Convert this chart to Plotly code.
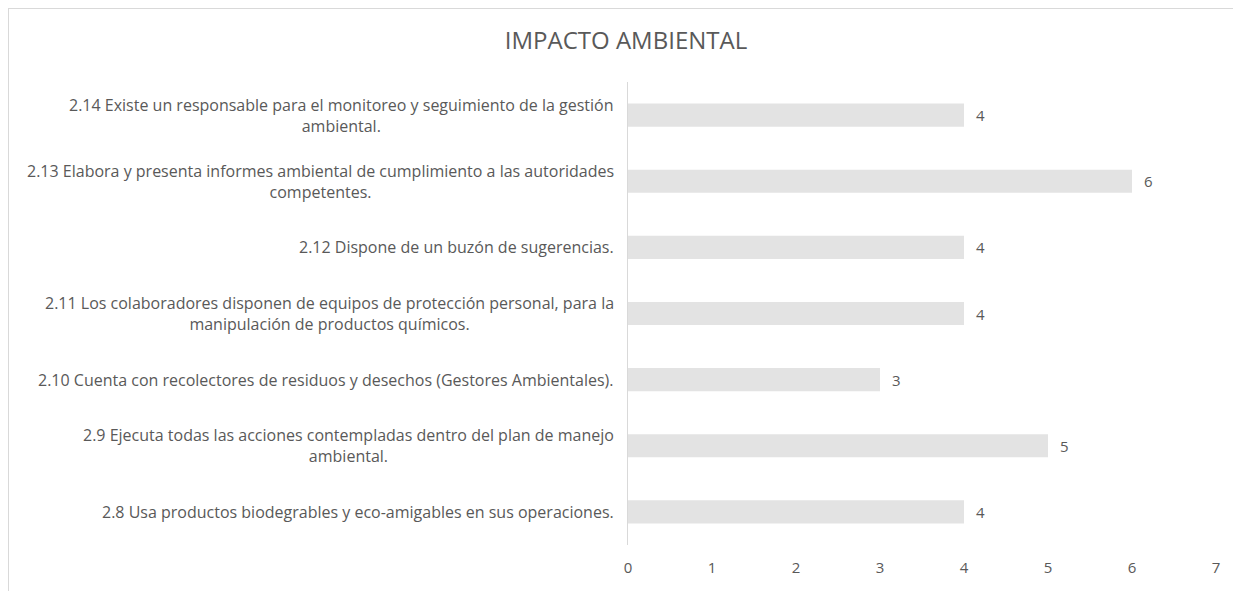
import plotly.graph_objects as go

# ---- data ----
categories = ["2.8", "2.9", "2.10", "2.11", "2.12", "2.13", "2.14"]
labels = [
    "2.8 Usa productos biodegrables y eco-amigables en sus operaciones.",
    "2.9 Ejecuta todas las acciones contempladas dentro del plan de manejo<br>ambiental.",
    "2.10 Cuenta con recolectores de residuos y desechos (Gestores Ambientales).",
    "2.11 Los colaboradores disponen de equipos de protección personal, para la<br>manipulación de productos químicos.",
    "2.12 Dispone de un buzón de sugerencias.",
    "2.13 Elabora y presenta informes ambiental de cumplimiento a las autoridades<br>competentes.",
    "2.14 Existe un responsable para el monitoreo y seguimiento de la gestión<br>ambiental.",
]
values = [4, 5, 3, 4, 4, 6, 4]
x_ticks = [0, 1, 2, 3, 4, 5, 6, 7]
title = "IMPACTO AMBIENTAL"

# ---- layout constants (page body adds an 8px offset) ----
OFF = 8
W, H = 1241 - OFF, 591 - OFF
ML, MR, MT, MB = 628 - OFF, 25, 82 - OFF, 46
FONT = "Open Sans"
GRAY = "#595959"

fig = go.Figure()
fig.add_trace(go.Bar(
    y=categories, x=values, orientation="h",
    marker=dict(color="#e3e3e3", line=dict(width=0)),
    width=0.35, hoverinfo="x+y",
))

annotations = []
# category axis: numeric y refers to the category index
for i, lab in enumerate(labels):
    annotations.append(dict(
        x=0, xref="paper", y=i, yref="y", text=lab, showarrow=False,
        xanchor="right", yanchor="middle", align="center", xshift=-12,
        font=dict(family=FONT, size=16, color=GRAY),
    ))
for i, v in enumerate(values):
    annotations.append(dict(
        x=v, xref="x", y=i, yref="y", text=str(v), showarrow=False,
        xanchor="left", yanchor="middle", xshift=10,
        font=dict(family=FONT, size=15, color=GRAY),
    ))

pw = W - ML - MR
ph = H - MT - MB
def px(x):
    return (x - OFF - ML) / pw
def py(y):
    return 1 - (y - OFF - MT) / ph

line_col = "#d9d9d9"
shapes = [
    dict(type="line", xref="paper", yref="paper", x0=px(8), x1=px(1250), y0=py(8.5), y1=py(8.5),
         line=dict(color=line_col, width=1)),
    dict(type="line", xref="paper", yref="paper", x0=px(8.5), x1=px(8.5), y0=py(8), y1=py(600),
         line=dict(color=line_col, width=1)),
]

fig.update_layout(
    width=W, height=H,
    margin=dict(l=ML, r=MR, t=MT, b=MB, autoexpand=False),
    paper_bgcolor="white", plot_bgcolor="white",
    title=dict(text=title, x=(626 - OFF) / W, xanchor="center", y=1 - (41 - OFF) / H,
               yanchor="middle", font=dict(family=FONT, size=24, color=GRAY)),
    showlegend=False,
    annotations=annotations,
    shapes=shapes,
    xaxis=dict(range=[0, 7], tickvals=x_ticks, showgrid=False, zeroline=False,
               showline=False, ticks="", ticklabelstandoff=12,
               tickfont=dict(family=FONT, size=15, color=GRAY), fixedrange=True),
    yaxis=dict(type="category", categoryorder="array", categoryarray=categories,
               showticklabels=False, showgrid=False, zeroline=False, showline=True,
               linecolor=line_col, linewidth=1, ticks="", range=[-0.5, 6.5],
               fixedrange=True),
)

fig.write_html("out.html")
